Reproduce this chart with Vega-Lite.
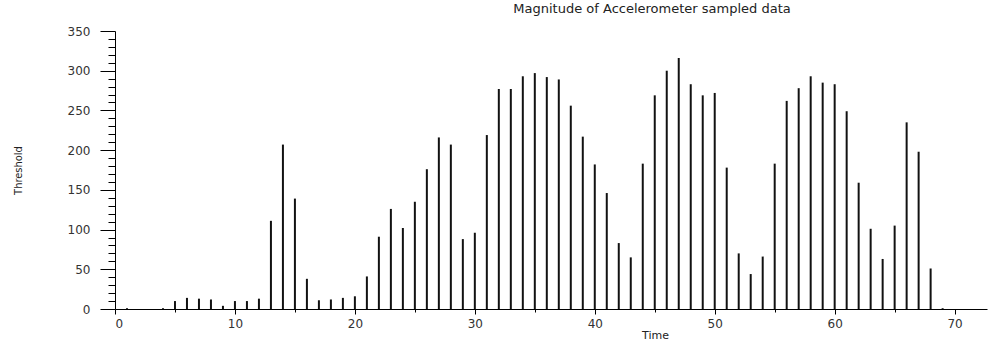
{
  "$schema": "https://vega.github.io/schema/vega-lite/v6.json",
  "autosize": "none",
  "width": 872,
  "height": 278,
  "padding": {"left": 115, "top": 31, "right": 1, "bottom": 33},
  "background": "white",
  "title": {
    "text": "Magnitude of Accelerometer sampled data",
    "anchor": "middle",
    "dx": 101,
    "offset": 9,
    "font": "DejaVu Sans",
    "fontSize": 13,
    "fontWeight": "normal",
    "color": "#222"
  },
  "config": {
    "view": {"stroke": null},
    "axis": {
      "grid": false,
      "domainColor": "#000",
      "tickColor": "#000",
      "labelColor": "#333",
      "labelFont": "DejaVu Sans",
      "labelFontSize": 12,
      "titleFont": "DejaVu Sans",
      "titleFontWeight": "normal",
      "titleColor": "#222"
    }
  },
  "data": {
    "values": [
      {"t": 1, "v": 1}, {"t": 4, "v": 1}, {"t": 5, "v": 10}, {"t": 6, "v": 14},
      {"t": 7, "v": 13}, {"t": 8, "v": 12}, {"t": 9, "v": 4}, {"t": 10, "v": 10},
      {"t": 11, "v": 10}, {"t": 12, "v": 13}, {"t": 13, "v": 111}, {"t": 14, "v": 207},
      {"t": 15, "v": 139}, {"t": 16, "v": 38}, {"t": 17, "v": 11}, {"t": 18, "v": 12},
      {"t": 19, "v": 14}, {"t": 20, "v": 16}, {"t": 21, "v": 41}, {"t": 22, "v": 91},
      {"t": 23, "v": 126}, {"t": 24, "v": 102}, {"t": 25, "v": 135}, {"t": 26, "v": 176},
      {"t": 27, "v": 216}, {"t": 28, "v": 207}, {"t": 29, "v": 88}, {"t": 30, "v": 96},
      {"t": 31, "v": 219}, {"t": 32, "v": 277}, {"t": 33, "v": 277}, {"t": 34, "v": 293},
      {"t": 35, "v": 297}, {"t": 36, "v": 292}, {"t": 37, "v": 289}, {"t": 38, "v": 256},
      {"t": 39, "v": 217}, {"t": 40, "v": 182}, {"t": 41, "v": 146}, {"t": 42, "v": 83},
      {"t": 43, "v": 65}, {"t": 44, "v": 183}, {"t": 45, "v": 269}, {"t": 46, "v": 300},
      {"t": 47, "v": 316}, {"t": 48, "v": 283}, {"t": 49, "v": 269}, {"t": 50, "v": 272},
      {"t": 51, "v": 178}, {"t": 52, "v": 70}, {"t": 53, "v": 44}, {"t": 54, "v": 66},
      {"t": 55, "v": 183}, {"t": 56, "v": 262}, {"t": 57, "v": 278}, {"t": 58, "v": 293},
      {"t": 59, "v": 285}, {"t": 60, "v": 283}, {"t": 61, "v": 249}, {"t": 62, "v": 159},
      {"t": 63, "v": 101}, {"t": 64, "v": 63}, {"t": 65, "v": 105}, {"t": 66, "v": 235},
      {"t": 67, "v": 198}, {"t": 68, "v": 51}, {"t": 69, "v": 1}
    ]
  },
  "layer": [
    {
      "mark": {"type": "rule", "strokeWidth": 2, "color": "#111"},
      "encoding": {
        "x": {
          "field": "t", "type": "quantitative",
          "scale": {"domain": [0, 72.7], "nice": false, "zero": false},
          "axis": {
            "values": [0, 10, 20, 30, 40, 50, 60, 70],
            "tickSize": 5, "labelPadding": 4,
            "title": "Time", "titleX": 540, "titleY": 26, "titleBaseline": "middle",
            "titleFontSize": 11
          }
        },
        "y": {
          "field": "v", "type": "quantitative",
          "scale": {"domain": [0, 350], "nice": false},
          "axis": {
            "values": [0, 50, 100, 150, 200, 250, 300, 350],
            "tickSize": 15, "labelPadding": 10,
            "title": "Threshold", "titleX": -97, "titleY": 139, "titleBaseline": "middle",
            "titleFont": "DejaVu Sans Condensed", "titleFontSize": 11
          }
        },
        "y2": {"datum": 0}
      }
    },
    {
      "mark": {"type": "rule", "opacity": 0},
      "encoding": {
        "x": {
          "field": "t", "type": "quantitative",
          "axis": {
            "orient": "bottom",
            "values": [5, 15, 25, 35, 45, 55, 65],
            "tickSize": 3, "labels": false, "domain": false, "title": null
          }
        },
        "y": {
          "field": "v", "type": "quantitative",
          "axis": {
            "orient": "left",
            "values": [10, 20, 30, 40, 60, 70, 80, 90, 110, 120, 130, 140, 160, 170, 180, 190, 210, 220, 230, 240, 260, 270, 280, 290, 310, 320, 330, 340],
            "tickSize": 7, "labels": false, "domain": false, "title": null
          }
        },
        "y2": {"datum": 0}
      }
    }
  ],
  "resolve": {"axis": {"x": "independent", "y": "independent"}}
}
